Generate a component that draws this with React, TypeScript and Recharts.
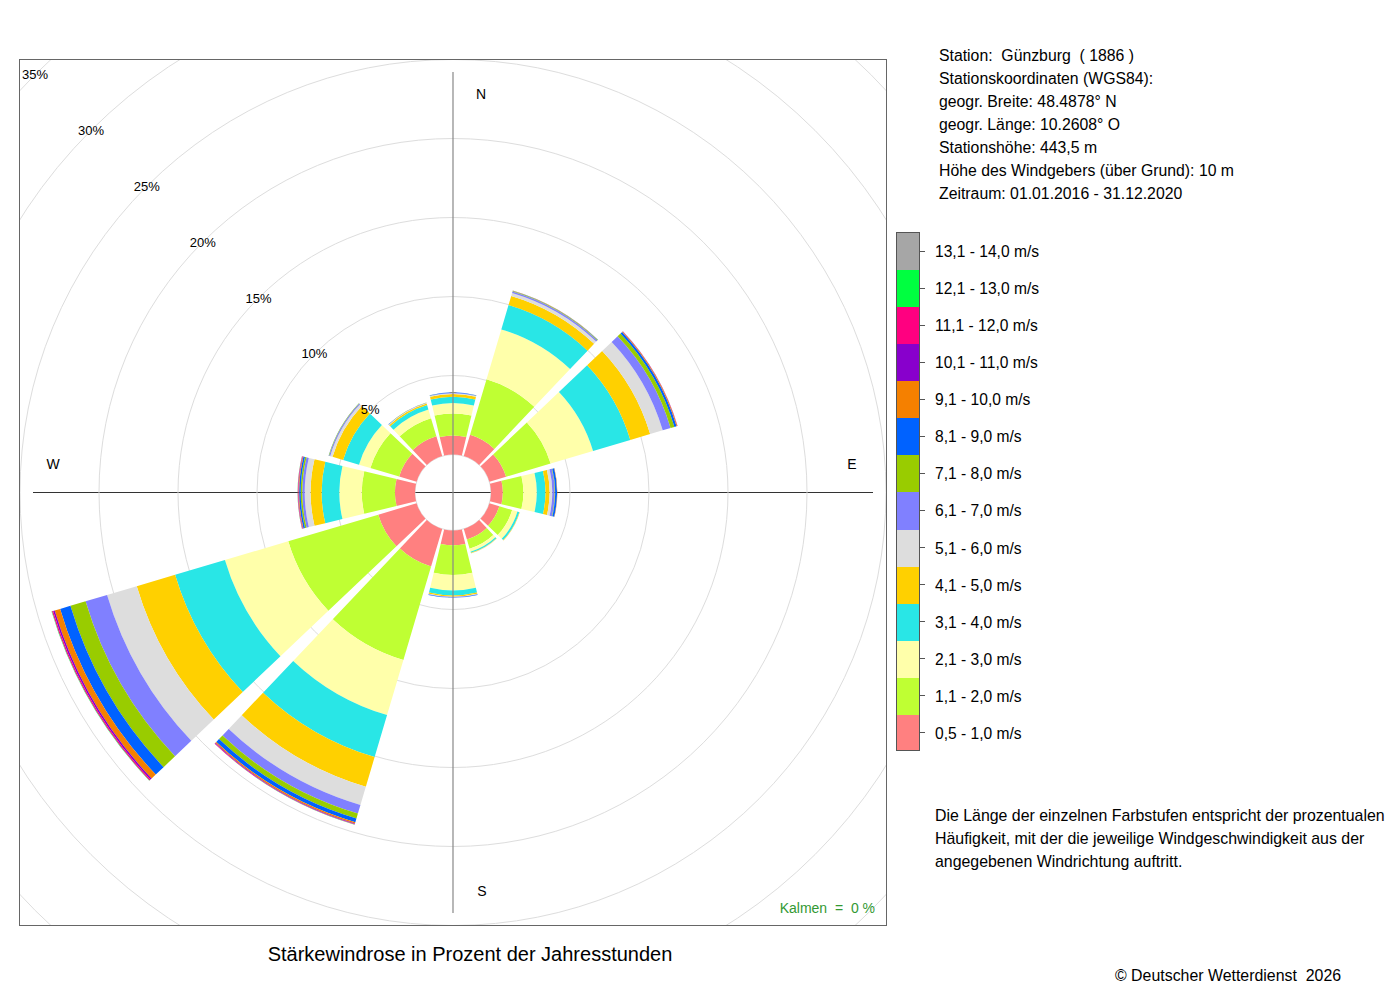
import React from 'react';
import { RadialBarChart, RadialBar, PolarAngleAxis, PolarRadiusAxis, PolarGrid } from 'recharts';

// wind directions, clockwise from north (30° sectors)
const directions = ['N', 'NNO', 'ONO', 'O', 'OSO', 'SSO', 'S', 'SSW', 'WSW', 'W', 'WNW', 'NNW'];

const speedClasses = [
  '0,5 - 1,0 m/s', '1,1 - 2,0 m/s', '2,1 - 3,0 m/s', '3,1 - 4,0 m/s', '4,1 - 5,0 m/s',
  '5,1 - 6,0 m/s', '6,1 - 7,0 m/s', '7,1 - 8,0 m/s', '8,1 - 9,0 m/s', '9,1 - 10,0 m/s',
  '10,1 - 11,0 m/s', '11,1 - 12,0 m/s', '12,1 - 13,0 m/s', '13,1 - 14,0 m/s',
];

const speedColors = [
  '#FF8080', '#BFFF33', '#FFFFAA', '#29E6E6', '#FFD000', '#DDDDDD', '#8080FF',
  '#99CC00', '#0062FF', '#F58000', '#8800CC', '#FF0080', '#00FF40', '#A6A6A6',
];

// percent of yearly hours per direction (N ... NNW)
const v05_10 = [1.2, 1.4, 1.1, 0.75, 0.65, 0.7, 0.94, 2.48, 2.53, 1.27, 1.15, 1.3];
const v11_20 = [1.4, 3.67, 2.94, 1.3, 0.85, 0.6, 1.88, 6.17, 5.94, 2.1, 1.9, 1.2];
const v21_30 = [0.65, 3.29, 2.8, 0.85, 0.35, 0.2, 0.97, 3.64, 4.18, 1.42, 0.75, 0.57];
const v31_40 = [0.4, 1.61, 2.46, 0.55, 0.12, 0.08, 0.32, 2.77, 3.29, 1.12, 1.05, 0.3];
const v41_50 = [0.17, 0.6, 1.31, 0.26, 0.03, 0.03, 0.08, 1.96, 2.53, 0.7, 0.7, 0.1];
const v51_60 = [0.05, 0.19, 0.83, 0.17, 0.01, 0.01, 0.02, 1.2, 1.96, 0.37, 0.15, 0.03];
const v61_70 = [0.03, 0.1, 0.52, 0.15, 0, 0, 0.02, 0.57, 1.42, 0.15, 0.07, 0.02];
const v71_80 = [0.01, 0.04, 0.25, 0.03, 0, 0, 0.01, 0.32, 1.0, 0.1, 0.03, 0.01];
const v81_90 = [0.02, 0.02, 0.14, 0.12, 0, 0, 0.02, 0.25, 0.68, 0.1, 0.01, 0.01];
const v91_100 = [0, 0.01, 0.05, 0.02, 0, 0, 0, 0.08, 0.36, 0.04, 0, 0];
const v101_110 = [0, 0, 0.01, 0, 0, 0, 0, 0.04, 0.1, 0.02, 0, 0];
const v111_120 = [0, 0, 0.01, 0, 0, 0, 0, 0.03, 0.08, 0.03, 0, 0];
const v121_130 = [0, 0, 0, 0, 0, 0, 0, 0.01, 0.02, 0.01, 0, 0];
const v131_140 = [0, 0, 0, 0, 0, 0, 0, 0, 0.01, 0, 0, 0];

const series = [
  v05_10, v11_20, v21_30, v31_40, v41_50, v51_60, v61_70,
  v71_80, v81_90, v91_100, v101_110, v111_120, v121_130, v131_140,
];

const pctTicks = [0, 5, 10, 15, 20, 25, 30, 35];

const stationLines = [
  'Station:  Günzburg  ( 1886 )',
  'Stationskoordinaten (WGS84):',
  'geogr. Breite: 48.4878° N',
  'geogr. Länge: 10.2608° O',
  'Stationshöhe: 443,5 m',
  'Höhe des Windgebers (über Grund): 10 m',
  'Zeitraum: 01.01.2016 - 31.12.2020',
];

const noteLines = [
  'Die Länge der einzelnen Farbstufen entspricht der prozentualen',
  'Häufigkeit, mit der die jeweilige Windgeschwindigkeit aus der',
  'angegebenen Windrichtung auftritt.',
];

const data = directions.map((dir, i) => {
  const row: Record<string, number | string> = { dir };
  series.forEach((s, k) => {
    row['s' + k] = s[i];
  });
  return row;
});

const FONT = '"Liberation Sans", Arial, Helvetica, sans-serif';
const BOX_W = 866;
const BOX_H = 865;
const CX = 433;
const CY = 432.5;
const AXIS_LEN = 420;

const PctTick = (props: any) => {
  const { x, y, payload } = props;
  if (payload.value === 0) return <g />;
  return (
    <text x={x} y={y} textAnchor="middle" dominantBaseline="central" fontSize={13} fill="#000" fontFamily={FONT}>
      {payload.value}%
    </text>
  );
};

const Legend = () => {
  const cell = 37.07;
  const rev = speedClasses.map((l, i) => i).reverse();
  return (
    <div style={{ position: 'absolute', left: 896, top: 232, width: 200, height: cell * 14 }}>
      <div
        style={{
          position: 'absolute', left: 0, top: 0, width: 24, height: cell * 14,
          border: '1px solid #555', boxSizing: 'border-box', overflow: 'hidden',
        }}
      >
        {rev.map((k) => (
          <div key={k} style={{ height: cell, background: speedColors[k] }} />
        ))}
      </div>
      {rev.map((k, j) => (
        <React.Fragment key={k}>
          <div style={{ position: 'absolute', left: 24, top: j * cell + cell / 2, width: 5, height: 1, background: '#555' }} />
          <div
            style={{
              position: 'absolute', left: 39, top: j * cell + 1, height: cell, lineHeight: `${cell}px`,
              fontSize: 15.6, whiteSpace: 'pre', color: '#000',
            }}
          >
            {speedClasses[k]}
          </div>
        </React.Fragment>
      ))}
    </div>
  );
};

export default function App() {
  return (
    <div style={{ position: 'absolute', left: 0, top: 0, width: 1400, height: 1000, background: '#fff', fontFamily: FONT }}>
      <div
        style={{
          position: 'absolute', left: 19, top: 59, width: BOX_W + 2, height: BOX_H + 2,
          border: '1px solid #666', boxSizing: 'border-box', overflow: 'hidden',
        }}
      >
        <svg width={BOX_W} height={BOX_H} style={{ position: 'absolute', left: 0, top: 0 }}>
          <line x1={CX - AXIS_LEN} y1={CY} x2={CX + AXIS_LEN} y2={CY} stroke="#333" strokeWidth={1.2} />
        </svg>
        <div style={{ position: 'absolute', left: 0, top: 0 }}>
          <RadialBarChart
            width={BOX_W}
            height={BOX_H}
            cx={CX}
            cy={CY}
            innerRadius={38}
            outerRadius={591}
            startAngle={75}
            endAngle={-285}
            data={data}
            layout="centric"
            barCategoryGap="5%"
            margin={{ top: 0, right: 0, bottom: 0, left: 0 }}
          >
            <PolarGrid gridType="circle" radialLines={false} stroke="#dddddd" />
            <PolarAngleAxis type="category" dataKey="dir" tick={false} axisLine={false} tickLine={false} />
            <PolarRadiusAxis
              type="number"
              domain={[0, 35]}
              ticks={pctTicks}
              angle={135}
              axisLine={false}
              tickLine={false}
              tick={<PctTick />}
            />
            {series.map((_, k) => (
              <RadialBar
                key={k}
                dataKey={'s' + k}
                stackId="rose"
                fill={speedColors[k]}
                stroke="none"
                isAnimationActive={false}
              />
            ))}
          </RadialBarChart>
        </div>
        <svg width={BOX_W} height={BOX_H} style={{ position: 'absolute', left: 0, top: 0, pointerEvents: 'none' }}>
          <line x1={CX} y1={CY - AXIS_LEN - 0.5} x2={CX} y2={CY + AXIS_LEN + 0.5} stroke="#888" strokeWidth={1.2} />
          <g fontSize={14} fill="#000" fontFamily={FONT} textAnchor="middle" dominantBaseline="central">
            <text x={CX + 28} y={CY - 398.5}>N</text>
            <text x={CX + 29} y={CY + 398.5}>S</text>
            <text x={CX + 399} y={CY - 28.5}>E</text>
            <text x={CX - 400} y={CY - 28.5}>W</text>
          </g>
          <text x={855} y={853} textAnchor="end" fontSize={14} fill="#339933" fontFamily={FONT} style={{ whiteSpace: 'pre' }}>
            {'Kalmen  =  0 %'}
          </text>
        </svg>
      </div>

      <div style={{ position: 'absolute', left: 20, width: 900, top: 941, textAlign: 'center', fontSize: 20, lineHeight: '26px', color: '#000' }}>
        Stärkewindrose in Prozent der Jahresstunden
      </div>

      <div style={{ position: 'absolute', left: 939, top: 43.5, fontSize: 15.8, lineHeight: '23px', whiteSpace: 'pre', color: '#000' }}>
        {stationLines.map((l) => (
          <div key={l}>{l}</div>
        ))}
      </div>

      <Legend />

      <div style={{ position: 'absolute', left: 935, top: 803.5, fontSize: 15.9, lineHeight: '23px', whiteSpace: 'pre', color: '#000' }}>
        {noteLines.map((l) => (
          <div key={l}>{l}</div>
        ))}
      </div>

      <div style={{ position: 'absolute', left: 1115, top: 965, fontSize: 15.9, lineHeight: '22px', whiteSpace: 'pre', color: '#000' }}>
        {'© Deutscher Wetterdienst  2026'}
      </div>
    </div>
  );
}
